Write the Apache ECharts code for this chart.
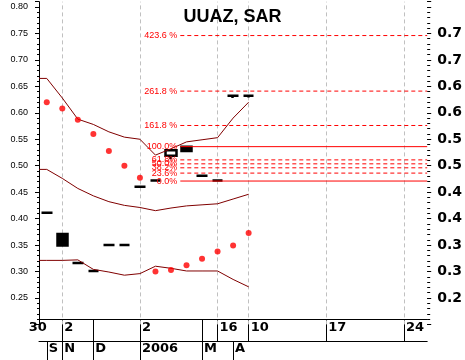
<!DOCTYPE html>
<html><head><meta charset="utf-8">
<script src="https://cdn.jsdelivr.net/npm/echarts@6/dist/echarts.min.js"></script>
<style>html,body{margin:0;padding:0;background:#fff}#c{width:465px;height:360px}</style>
</head><body><div id="c"></div>
<script>
// ---- data ----
const dayLabels   = ['', '2', '', '', '', '', '2', '', '', '', '', '16', '', '10', '', '', '', '', '17', '', '', '', '', '24', ''];
const dayTickIdx  = [1, 3, 6, 10, 11, 13, 18, 23];
const firstDayLabel = '30';
const monthLabels = ['S', 'N', '', 'D', '', '', '2006', '', '', '', 'M', '', 'A', '', '', '', '', '', '', '', '', '', '', '', ''];
const monthTickIdx = [0, 1, 3, 6, 10, 12];
const gridIdx = [1, 6, 11, 13, 18, 23];

const openV  = [0.411, 0.371, 0.316, 0.301, 0.350, 0.350, 0.460, 0.472, 0.519, 0.536, 0.481, 0.472, 0.632, 0.632];
const closeV = [0.411, 0.349, 0.316, 0.301, 0.350, 0.350, 0.460, 0.472, 0.529, 0.528, 0.481, 0.472, 0.632, 0.632];
const lowV   = [0.409, 0.349, 0.315, 0.299, 0.349, 0.348, 0.459, 0.471, 0.512, 0.527, 0.480, 0.471, 0.628, 0.629];
const highV  = [0.412, 0.371, 0.317, 0.302, 0.351, 0.351, 0.461, 0.473, 0.531, 0.537, 0.482, 0.473, 0.633, 0.633];

const sar = [0.620, 0.608, 0.587, 0.560, 0.528, 0.500, 0.477, 0.300, 0.303, 0.312, 0.324, 0.338, 0.349, 0.373];

const upperBand  = [0.665, 0.628, 0.588, 0.578, 0.564, 0.554, 0.550, 0.520, 0.532, 0.545, 0.549, 0.553, 0.590, 0.620];
const middleBand = [0.493, 0.476, 0.457, 0.443, 0.432, 0.425, 0.421, 0.415, 0.420, 0.424, 0.426, 0.428, 0.437, 0.446];
const lowerBand  = [0.321, 0.321, 0.322, 0.304, 0.299, 0.293, 0.296, 0.310, 0.306, 0.301, 0.301, 0.301, 0.285, 0.271];

const fibLabels = ['423.6 %', '261.8 %', '161.8 %', '100.0%', '61.8%', '50.0%', '38.2%', '23.6%', '0.0%'];
const fibLevels = [0.746, 0.641, 0.576, 0.536, 0.511, 0.5035, 0.496, 0.486, 0.471];
const fibSolid  = [false, false, false, true, false, false, false, false, true];
const fibStart = 8.6;

const leftTickLabels = ['0.25','0.30','0.35','0.40','0.45','0.50','0.55','0.60','0.65','0.70','0.75','0.80'];
const rightTickLabels = ['0.25','0.30','0.35','0.40','0.45','0.50','0.55','0.60','0.65','0.70','0.75'];

// ---- chart ----
const chart = echarts.init(document.getElementById('c'), null, {renderer: 'canvas'});
const nCat = dayLabels.length;
const bandData = arr => [[-0.5, arr[0]]].concat(arr.map((v, i) => [i, v]));
const labFont = {fontFamily: 'DejaVu Sans', fontWeight: 'bold', fontSize: 13, color: '#000'};

const fibSeries = fibLevels.map((lv, k) => ({
  type: 'line', name: 'fib' + k, xAxisIndex: 2, yAxisIndex: 0, z: 6, silent: true,
  symbol: 'circle', symbolSize: 0, showSymbol: true,
  itemStyle: {color: '#ff0000'},
  lineStyle: {color: '#ff0000', width: 1, type: fibSolid[k] ? 'solid' : [4, 3]},
  label: {show: false},
  emphasis: {disabled: true},
  data: [
    {value: [fibStart, lv], label: {show: true, position: 'left', distance: 3, formatter: fibLabels[k],
      color: '#ff0000', fontSize: 9, fontFamily: 'Liberation Sans, Arial'}},
    [nCat - 0.5, lv]
  ]
}));

const option = {
  animation: false,
  backgroundColor: '#fff',
  title: {
    text: 'UUAZ, SAR', left: 'center', top: 3,
    textStyle: {fontFamily: 'Liberation Sans, Arial', fontWeight: 'bold', fontSize: 18, color: '#000'}
  },
  grid: {left: 39, right: 37, top: 1.7, bottom: 35.6},
  xAxis: [
    { // row 1 (days) + category scale
      type: 'category', data: dayLabels, position: 'bottom', offset: -5,
      axisLine: {show: true, onZero: false, lineStyle: {color: '#000', width: 1}},
      axisTick: {show: true, alignWithLabel: true, length: 22, interval: i => dayTickIdx.includes(i), lineStyle: {color: '#000', width: 1}},
      axisLabel: Object.assign({interval: i => dayTickIdx.includes(i), align: 'left', margin: 2, padding: [0, 0, 0, 2]}, labFont),
      splitLine: {show: false}
    },
    { // row 2 (months)
      type: 'category', data: monthLabels, position: 'bottom', offset: 17,
      axisLine: {show: true, onZero: false, lineStyle: {color: '#000', width: 1}},
      axisTick: {show: true, alignWithLabel: true, length: 20, interval: i => monthTickIdx.includes(i), lineStyle: {color: '#000', width: 1}},
      axisLabel: Object.assign({interval: i => monthTickIdx.includes(i), align: 'left', margin: 1, padding: [0, 0, 0, 2]}, labFont),
      splitLine: {show: false}
    },
    { // continuous helper axis for lines
      type: 'value', min: -0.5, max: nCat - 0.5, show: false,
      axisLine: {onZero: false}
    },
    { // first (cut) day label
      type: 'category', data: dayLabels.map((d, i) => i === 0 ? firstDayLabel : ''), position: 'bottom', offset: -5,
      axisLine: {show: false, onZero: false}, axisTick: {show: false},
      axisLabel: Object.assign({interval: i => i === 0, align: 'right', margin: 2}, labFont),
      splitLine: {show: false}
    }
  ],
  yAxis: [
    {
      type: 'value', position: 'left', min: 0.2, max: 0.81, interval: 0.05,
      axisLine: {show: true, onZero: false, lineStyle: {color: '#000'}},
      axisTick: {show: true, length: 4, lineStyle: {color: '#000'}},
      axisLabel: {
        margin: 11, fontSize: 9, fontFamily: 'Liberation Sans, Arial', color: '#000',
        formatter: v => { const s = v.toFixed(2); return (leftTickLabels.includes(s) && Math.abs(v - parseFloat(s)) < 1e-6) ? s : ''; }
      },
      splitLine: {show: false}
    },
    {
      type: 'value', position: 'right', min: 0.2, max: 0.81, interval: 0.05,
      axisLine: {show: false, onZero: false},
      axisTick: {show: true, length: 4, lineStyle: {color: '#000'}},
      axisLabel: {
        margin: 10, fontSize: 14, fontWeight: 'bold', fontFamily: 'DejaVu Sans', color: '#000',
        formatter: v => { const s = v.toFixed(2); if (!(rightTickLabels.includes(s) && Math.abs(v - parseFloat(s)) < 1e-6)) return ''; return (Math.floor(v * 10 + 1e-6) / 10).toFixed(1); }
      },
      splitLine: {show: false}
    },
    { // left minor ticks
      type: 'value', position: 'left', min: 0.2, max: 0.81, interval: 0.01,
      axisLine: {show: false, onZero: false}, axisLabel: {show: false}, splitLine: {show: false},
      axisTick: {show: true, length: 2, lineStyle: {color: '#000'}}
    },
    { // right minor ticks
      type: 'value', position: 'right', min: 0.2, max: 0.81, interval: 0.01,
      axisLine: {show: false, onZero: false}, axisLabel: {show: false}, splitLine: {show: false},
      axisTick: {show: true, length: 3, lineStyle: {color: '#000'}}
    }
  ],
  series: [
    {
      type: 'line', name: 'lower', xAxisIndex: 2, yAxisIndex: 0, data: bandData(lowerBand),
      symbol: 'none', silent: true, z: 3, lineStyle: {color: '#800000', width: 1},
      markLine: {
        silent: true, symbol: ['none', 'none'], z: 1, animation: false,
        label: {show: false},
        lineStyle: {color: '#c0c0c0', type: [4, 3], width: 1},
        data: gridIdx.map(i => ({xAxis: i}))
      }
    },
    {
      type: 'line', name: 'middle', xAxisIndex: 2, yAxisIndex: 0, data: bandData(middleBand),
      symbol: 'none', silent: true, z: 3, lineStyle: {color: '#800000', width: 1}
    },
    {
      type: 'line', name: 'upper', xAxisIndex: 2, yAxisIndex: 0, data: bandData(upperBand),
      symbol: 'none', silent: true, z: 3, lineStyle: {color: '#800000', width: 1}
    },
    {
      type: 'candlestick', name: 'price', xAxisIndex: 0, yAxisIndex: 0, z: 2,
      data: openV.map((o, i) => [o, closeV[i], lowV[i], highV[i]]),
      barWidth: 11,
      itemStyle: {color: '#ffffff', color0: '#000000', borderColor: '#000000', borderColor0: '#000000', borderColorDoji: '#000000', borderWidth: 2.5}
    },
    {
      type: 'scatter', name: 'SAR', xAxisIndex: 0, yAxisIndex: 0, z: 4,
      data: sar, symbol: 'circle', symbolSize: 6, itemStyle: {color: '#ff0000'}
    }
  ].concat(fibSeries)
};
chart.setOption(option);
</script>
</body></html>
